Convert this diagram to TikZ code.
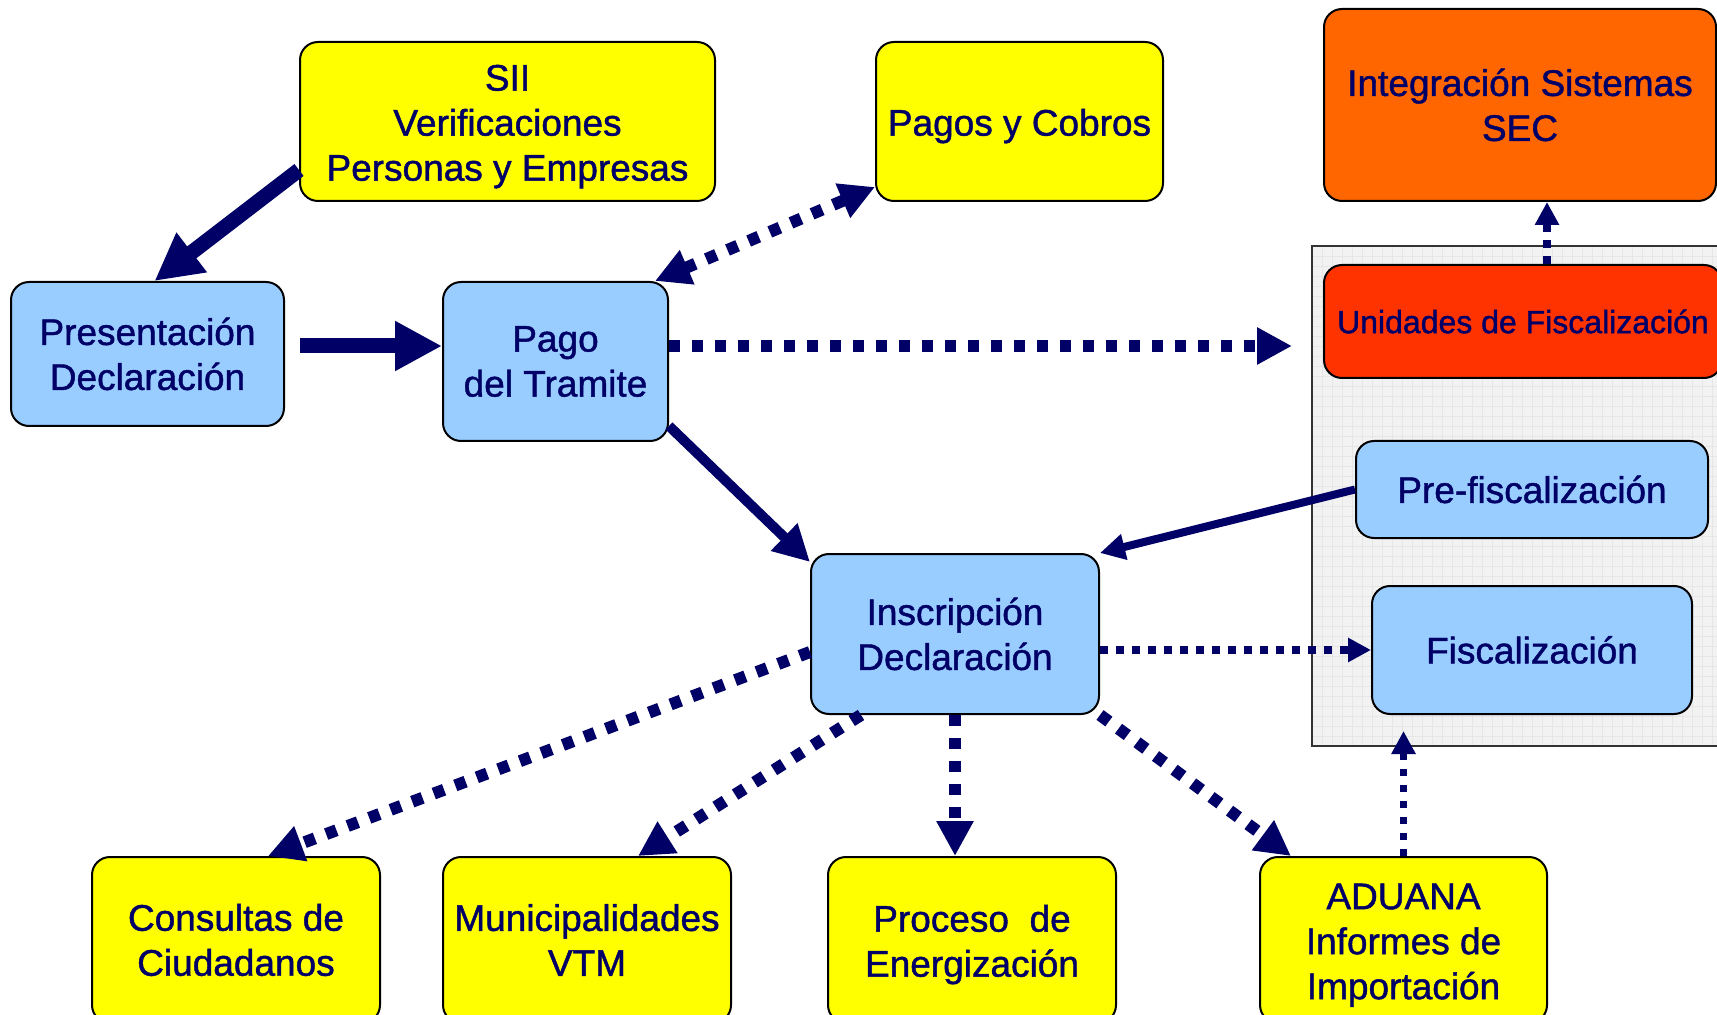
\documentclass[tikz,border=0pt]{standalone}
\usepackage{fontspec}
\setmainfont{Liberation Sans}[FakeBold=1.2]
\usepackage{xcolor}
\usetikzlibrary{arrows.meta,calc}
\definecolor{navy}{HTML}{000066}
\definecolor{boxyellow}{HTML}{FFFF00}
\definecolor{boxblue}{HTML}{99CCFF}
\definecolor{boxorange}{HTML}{FF6600}
\definecolor{boxred}{HTML}{FF3300}
\definecolor{panel}{HTML}{F2F2F2}
\definecolor{panelgrid}{HTML}{E6E6E6}
\newcommand{\topstrut}{\rule{0pt}{18pt}}

\begin{document}
\begin{tikzpicture}[x=0.5pt,y=-0.5pt,
    box/.style={draw=black,line width=1pt,rounded corners=9pt,inner sep=0pt,
        align=center,text=navy,font=\fontsize{18.5}{22.5}\selectfont},
    yelbox/.style={box,fill=boxyellow},
    bluebox/.style={box,fill=boxblue},
    solidbig/.style={navy,line width=7.5pt,-{Triangle[length=23.5pt,width=23.5pt]}},
    solidmid/.style={navy,line width=5pt,-{Triangle[length=18pt,width=18pt]}},
    solidthin/.style={navy,line width=4pt,-{Triangle[length=12.5pt,width=12.5pt]}},
    dotbig/.style={navy,line width=6pt,dash pattern=on 5.5pt off 6pt,-{Triangle[length=17.5pt,width=17.5pt]}},
    dotthin/.style={navy,line width=3.75pt,dash pattern=on 3.75pt off 4.25pt,-{Triangle[length=11.5pt,width=11.5pt]}}]
\useasboundingbox (0,0) rectangle (1717,1015);
\clip (0,0) rectangle (1717,1015);

\fill[panel] (1312,246) rectangle (1730,746);
\foreach \x in {1322,1332,...,1722}
    \draw[panelgrid,line width=0.3pt] (\x,246) -- (\x,746);
\foreach \y in {256,266,...,736}
    \draw[panelgrid,line width=0.3pt] (1312,\y) -- (1730,\y);
\draw[black!80,line width=1pt] (1312,246) rectangle (1730,746);

\node[yelbox,minimum width=207.5pt,minimum height=79.5pt] (sii) at (507.5,121.5)
    {\topstrut SII\\Verificaciones\\Personas y Empresas};
\node[yelbox,minimum width=143.5pt,minimum height=79.5pt] (pagos) at (1019.5,121.5)
    {\topstrut Pagos y Cobros};
\node[box,fill=boxorange,minimum width=196pt,minimum height=96pt] (integ) at (1520,105)
    {Integración Sistemas\\SEC};
\node[bluebox,minimum width=136.5pt,minimum height=72pt] (pres) at (147.5,354)
    {Presentación\\Declaración};
\node[bluebox,minimum width=112.5pt,minimum height=79.5pt] (pago) at (555.5,361.5)
    {Pago\\del Tramite};
\node[box,fill=boxred,minimum width=199pt,minimum height=56.5pt,font=\fontsize{16}{19}\selectfont] (unid) at (1523,321.5)
    {Unidades de Fiscalización};
\node[bluebox,minimum width=176pt,minimum height=48.5pt] (pre) at (1532,489.5)
    {Pre-fiscalización};
\node[bluebox,minimum width=160pt,minimum height=64pt] (fisc) at (1532,650)
    {Fiscalización};
\node[bluebox,minimum width=144pt,minimum height=80pt] (inscr) at (955,634)
    {Inscripción\\Declaración};
\node[yelbox,minimum width=144pt,minimum height=83pt] (cons) at (236,940)
    {Consultas de\\Ciudadanos};
\node[yelbox,minimum width=144pt,minimum height=83pt] (muni) at (587,940)
    {Municipalidades\\VTM};
\node[yelbox,minimum width=144pt,minimum height=83pt] (proc) at (972,940)
    {\topstrut Proceso\ \ de\\Energización};
\node[yelbox,minimum width=143.5pt,minimum height=83pt] (adua) at (1403.5,940)
    {\topstrut ADUANA\\Informes de\\Importación};

\coordinate (unidin) at (1292,346);

\draw[solidbig] ($(sii.west)+(0,48.5)$) -- ($(pres.north)+(7,0)$);
\draw[solidbig] ($(pres.east)+(15,-8)$) -- ($(pres.east -| pago.west)+(0,-8)$);
\draw[dotbig,{Triangle[length=17.5pt,width=17.5pt]}-{Triangle[length=17.5pt,width=17.5pt]}]
    ($(pago.north east)+(-14,0)$) -- ($(pagos.south west)+(0,-15)$);
\draw[dotbig] ($(pago.east)+(0,-15.5)$) -- (unidin);
\draw[solidmid] ($(pago.south east)+(0,-16)$) -- ($(inscr.north west)+(0,9)$);
\draw[solidthin] (pre.west) -- (inscr.north east);
\draw[dotthin] (inscr.east |- fisc.west) -- (fisc.west);
\draw[dotbig] ($(inscr.west)+(0,18)$) -- ($(cons.north)+(32,0)$);
\draw[dotbig] ($(inscr.south)+(-94,0)$) -- ($(muni.north)+(51,0)$);
\draw[dotbig] (inscr.south) -- (inscr.south |- proc.north);
\draw[dotbig] (inscr.south east) -- ($(adua.north west)+(32,0)$);
\draw[dotthin] (adua.north) -- ($(adua.north |- fisc.south)+(0,16)$);
\draw[dotthin] ($(unid.north)+(24,0)$) -- ($(integ.south)+(27,0)$);
\end{tikzpicture}
\end{document}
